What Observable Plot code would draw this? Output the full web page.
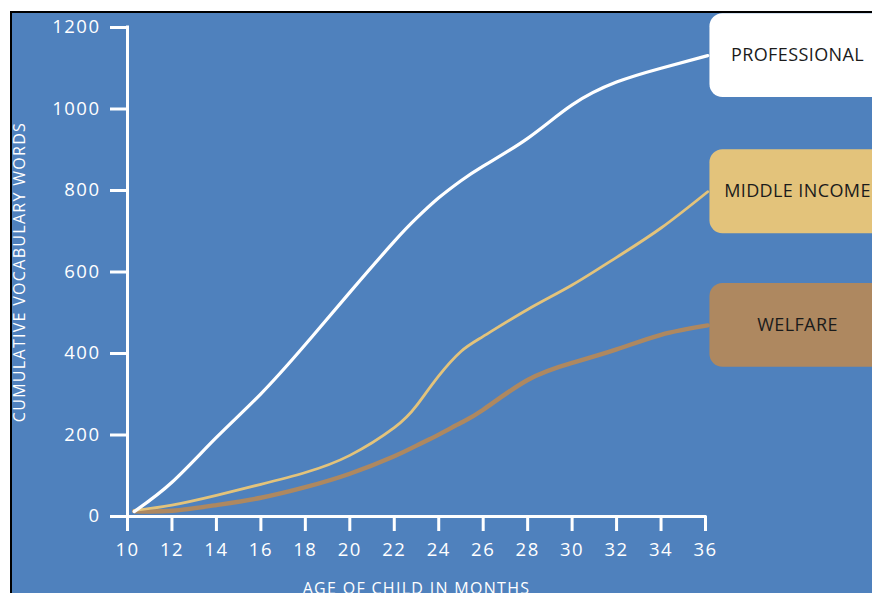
<!DOCTYPE html>
<html>
<head>
<meta charset="utf-8">
<script src="https://cdn.jsdelivr.net/npm/d3@7"></script>
<script src="https://cdn.jsdelivr.net/npm/@observablehq/plot@0.6"></script>
<style>
  html, body { margin: 0; padding: 0; background: #ffffff; }
  #wrap {
    position: absolute; left: 10px; top: 11px;
    width: 862px; height: 582px;
    border-left: 2px solid #000; border-top: 2px solid #000;
    background: #4f81bd; overflow: hidden;
  }
  #wrap svg { display: block; }
  #wrap g[aria-label$="tick label"] text { letter-spacing: 1.5px; }
  #wrap g[aria-label$="axis label"] text { letter-spacing: 1.3px; font-size: 16px; }
  #wrap g[aria-label="text"] text { letter-spacing: 0.4px; }
</style>
</head>
<body>
<div id="wrap"></div>
<script>
// Data
const months       = [10.3, 12, 14, 16, 18, 20, 22, 23, 24, 25, 26, 28, 30, 32, 34, 36.1];
const professional = [12, 84, 194, 301, 422, 550, 675, 732, 782, 824, 860, 928, 1010, 1066, 1100, 1131];
const middleIncome = [15, 28, 52, 79, 108, 150, 218, 272, 345, 405, 442, 508, 568, 636, 708, 797];
const welfare      = [13, 14, 28, 46, 72, 105, 148, 174, 201, 230, 262, 335, 377, 410, 446, 469];

const seriesNames  = ["PROFESSIONAL", "MIDDLE INCOME", "WELFARE"];
const seriesColors = ["#ffffff", "#e3c37b", "#ae8860"];
const xTicks = [10, 12, 14, 16, 18, 20, 22, 24, 26, 28, 30, 32, 34, 36];
const yTicks = [0, 200, 400, 600, 800, 1000, 1200];

const seriesValues = [professional, middleIncome, welfare];
const rows = seriesValues.flatMap((vals, i) =>
  vals.map((v, j) => ({series: seriesNames[i], month: months[j], words: v})));
const ends = seriesValues.map((vals, i) => ({series: seriesNames[i], color: seriesColors[i], words: vals[vals.length - 1]}));
const lineWidths = {"PROFESSIONAL": 3.2, "MIDDLE INCOME": 2.8, "WELFARE": 4.4};

const chart = Plot.plot({
  width: 860,
  height: 580,
  marginLeft: 115,
  marginTop: 14,
  marginRight: 167,
  marginBottom: 77,
  style: {background: "transparent", color: "#ffffff", fontFamily: "'Open Sans', sans-serif", overflow: "visible"},
  x: {domain: [10, 36]},
  y: {domain: [0, 1200]},
  marks: [
    Plot.axisX({ticks: xTicks, tickSize: 15, tickPadding: 11, strokeWidth: 3, fontSize: 18.5,
      tickFormat: d => String(d),
      label: "AGE OF CHILD IN MONTHS", labelAnchor: "center", labelOffset: 77, labelArrow: "none"}),
    Plot.axisY({ticks: yTicks, tickSize: 17, tickPadding: 10, strokeWidth: 3, fontSize: 18.5,
      tickFormat: d => String(d),
      label: "CUMULATIVE VOCABULARY WORDS", labelAnchor: "center", labelOffset: 114, labelArrow: "none"}),
    Plot.ruleY([0], {x1: 10, x2: 36, stroke: "#ffffff", strokeWidth: 3, strokeLinecap: "square"}),
    Plot.ruleX([10], {y1: 0, y2: 1200, stroke: "#ffffff", strokeWidth: 3, strokeLinecap: "square"}),
    ...seriesNames.slice().reverse().map(name =>
      Plot.line(rows.filter(d => d.series === name), {
        x: "month", y: "words", stroke: seriesColors[seriesNames.indexOf(name)],
        strokeWidth: lineWidths[name], curve: "natural"
      })),
    Plot.rect(ends, {x1: 36.2, x2: 46, y1: d => d.words - 103, y2: d => d.words + 103,
      fill: d => d.color, rx: 13, ry: 13}),
    Plot.text(ends, {x: 36, dx: 92, y: "words", text: "series", fill: "#1b1b1b", fontSize: 18})
  ]
});
document.getElementById("wrap").appendChild(chart);
</script>
</body>
</html>
